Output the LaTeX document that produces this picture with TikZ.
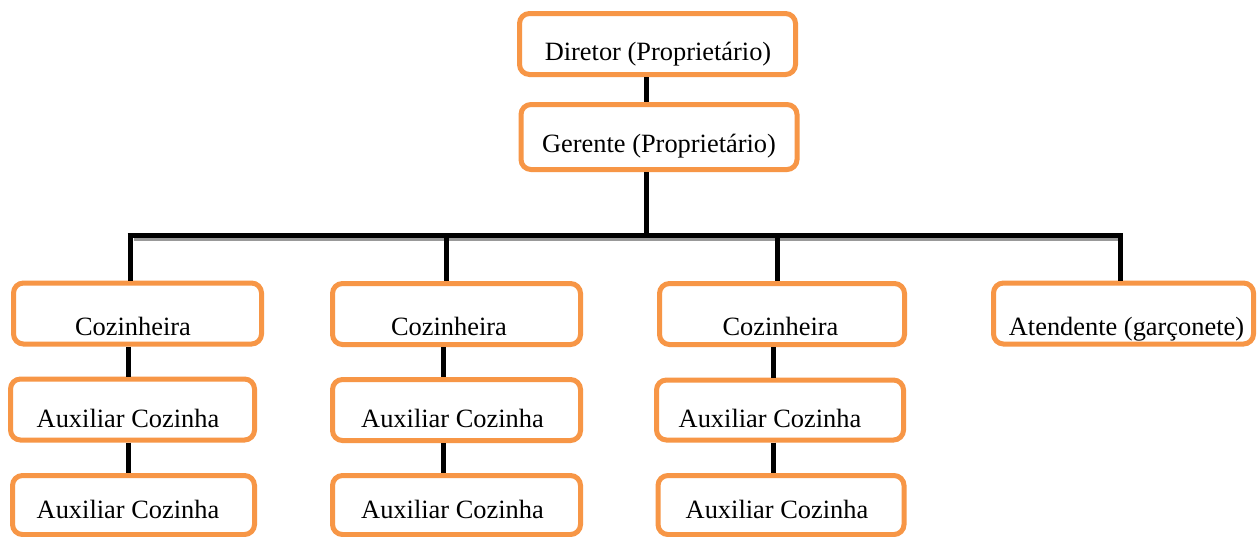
\documentclass[tikz,border=0pt]{standalone}
\usepackage{fontspec}
\setmainfont{Liberation Serif}
\definecolor{boxorange}{HTML}{F79646}
\begin{document}
\begin{tikzpicture}[x=1pt,y=-1pt,
  box/.style={draw=boxorange, line width=5pt, rounded corners=10pt, fill=white, inner sep=0pt, minimum width=#1},
  box/.default=246pt,
  lbl/.style={anchor=base, inner sep=0pt, font=\fontsize{26.4}{30}\selectfont},
  conn/.style={draw=black, line width=5pt},
  shadowline/.style={draw=black!40, line width=3pt}]
\useasboundingbox[fill=white] (0,0) rectangle (1257,536);

% boxes
\node[box=276pt, minimum height=61pt] (dir) at (657.5,44) {};
\node[box=276pt, minimum height=65pt] (ger) at (659,137) {};
\node[box=248pt, minimum height=61pt] (c1) at (137.5,313.5) {};
\node[box=248pt, minimum height=61pt] (c2) at (456.5,314) {};
\node[box=245pt, minimum height=61pt] (c3) at (782,314) {};
\node[box=260pt, minimum height=61pt] (at) at (1123.5,313.5) {};
\node[box=244pt, minimum height=61pt] (a1) at (132.5,409.5) {};
\node[box=248pt, minimum height=61pt] (a2) at (456.5,410) {};
\node[box=247pt, minimum height=60pt] (a3) at (780,410) {};
\node[box=242pt, minimum height=59pt] (b1) at (133.5,505) {};
\node[box=248pt, minimum height=59pt] (b2) at (456.5,505) {};
\node[box=246pt, minimum height=59pt] (b3) at (781,505) {};

% labels
\node[lbl] (tdir) at (658,60) {Diretor (Proprietário)};
\node[lbl] (tger) at (659,152) {Gerente (Proprietário)};
\node[lbl] (tc1) at (133,335) {Cozinheira};
\node[lbl] (tc2) at (449,335) {Cozinheira};
\node[lbl] (tc3) at (780.5,335) {Cozinheira};
\node[lbl] (tat) at (1126.5,335) {Atendente (garçonete)};
\node[lbl] (ta1) at (128,427) {Auxiliar Cozinha};
\node[lbl] (ta2) at (452.5,427) {Auxiliar Cozinha};
\node[lbl] (ta3) at (770,427) {Auxiliar Cozinha};
\node[lbl] (tb1) at (128,518) {Auxiliar Cozinha};
\node[lbl] (tb2) at (452.5,518) {Auxiliar Cozinha};
\node[lbl] (tb3) at (777,518) {Auxiliar Cozinha};

% connector coordinates
\coordinate (j0) at (646,235.5);
\coordinate (j1) at (130,235.5);
\coordinate (j2) at (446,235.5);
\coordinate (j3) at (777,235.5);
\coordinate (j4) at (1120,235.5);
\coordinate (v1) at (128,0);
\coordinate (v2) at (443,0);
\coordinate (v3) at (773,0);

% bus with shadow
\path[shadowline] ([xshift=4pt,yshift=-4pt]j1) -- ([xshift=-2pt,yshift=-4pt]j4);
\path[conn] ([xshift=-2.5pt]j1) -- ([xshift=2.5pt]j4);

% connectors
\path[conn] (dir.south -| j0) -- (ger.north -| j0);
\path[conn] (ger.south -| j0) -- (j0);
\path[conn] (j1) -- (c1.north -| j1);
\path[conn] (j2) -- (c2.north -| j2);
\path[conn] (j3) -- (c3.north -| j3);
\path[conn] (j4) -- (at.north -| j4);
\path[conn] (c1.south -| v1) -- (a1.north -| v1);
\path[conn] (a1.south -| v1) -- (b1.north -| v1);
\path[conn] (c2.south -| v2) -- (a2.north -| v2);
\path[conn] (a2.south -| v2) -- (b2.north -| v2);
\path[conn] (c3.south -| v3) -- (a3.north -| v3);
\path[conn] (a3.south -| v3) -- (b3.north -| v3);
\end{tikzpicture}
\end{document}
